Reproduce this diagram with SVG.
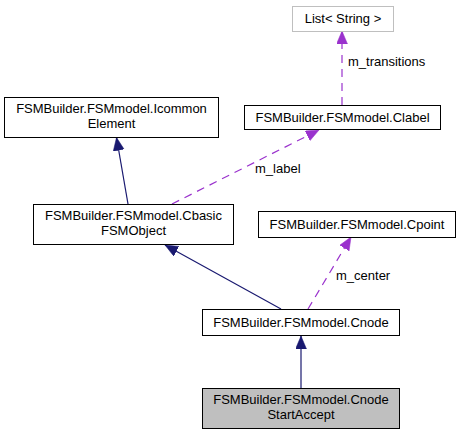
<svg xmlns="http://www.w3.org/2000/svg" width="463" height="435" viewBox="0 0 463 435">
<style>
  .box { fill: #ffffff; stroke: #000000; stroke-width: 1; }
  .gray { fill: #ffffff; stroke: #bfbfbf; stroke-width: 1; }
  .cur { fill: #bfbfbf; stroke: #000000; stroke-width: 1; }
  text { font-family: "Liberation Sans", Arial, sans-serif; font-size: 13px; fill: #000000; }
  .c { text-anchor: middle; }
  .inh { stroke: #191970; stroke-width: 1.2; fill: none; }
  .use { stroke: #9a32cd; stroke-width: 1.2; fill: none; stroke-dasharray: 8,6; }
</style>
<defs>
  <marker id="ah-inh" markerUnits="userSpaceOnUse" markerWidth="14" markerHeight="12" refX="13" refY="5.5" orient="auto">
    <path d="M0,0 L13,5.5 L0,11 z" fill="#191970" stroke="#191970" stroke-width="0.5"/>
  </marker>
  <marker id="ah-use" markerUnits="userSpaceOnUse" markerWidth="14" markerHeight="12" refX="13" refY="5.5" orient="auto">
    <path d="M0,0 L13,5.5 L0,11 z" fill="#9a32cd" stroke="#9a32cd" stroke-width="0.5"/>
  </marker>
</defs>

<g id="edges">
  <line class="inh" x1="128" y1="204" x2="116.5" y2="137.5" marker-end="url(#ah-inh)"/>
  <line class="inh" x1="281" y1="309" x2="165" y2="245" marker-end="url(#ah-inh)"/>
  <line class="inh" x1="301" y1="388" x2="301" y2="336" marker-end="url(#ah-inh)"/>
  <line class="use" x1="172" y1="204" x2="319" y2="130" marker-end="url(#ah-use)"/>
  <line class="use" x1="342" y1="105" x2="342" y2="31" marker-end="url(#ah-use)"/>
  <line class="use" x1="308" y1="309" x2="351" y2="237" marker-end="url(#ah-use)"/>
  <text x="255" y="173">m_label</text>
  <text x="348" y="66">m_transitions</text>
  <text x="336" y="280">m_center</text>
</g>

<g id="node-list">
  <rect class="gray" x="292.5" y="6.5" width="101" height="25"/>
  <text class="c" x="343" y="23">List&lt; String &gt;</text>
</g>
<g id="node-icommon">
  <rect class="box" x="4.5" y="97.5" width="214" height="40"/>
  <text class="c" x="111.5" y="113">FSMBuilder.FSMmodel.Icommon</text>
  <text class="c" x="111.5" y="128">Element</text>
</g>
<g id="node-clabel">
  <rect class="box" x="244.5" y="105.5" width="196" height="24"/>
  <text class="c" x="342.5" y="122">FSMBuilder.FSMmodel.Clabel</text>
</g>
<g id="node-cbasic">
  <rect class="box" x="33.5" y="204.5" width="200" height="40"/>
  <text class="c" x="133.5" y="220">FSMBuilder.FSMmodel.Cbasic</text>
  <text class="c" x="133.5" y="235">FSMObject</text>
</g>
<g id="node-cpoint">
  <rect class="box" x="258.5" y="211.5" width="197" height="26"/>
  <text class="c" x="357" y="229">FSMBuilder.FSMmodel.Cpoint</text>
</g>
<g id="node-cnode">
  <rect class="box" x="202.5" y="309.5" width="197" height="26"/>
  <text class="c" x="301" y="327">FSMBuilder.FSMmodel.Cnode</text>
</g>
<g id="node-startaccept">
  <rect class="cur" x="202.5" y="388.5" width="197" height="40"/>
  <text class="c" x="301" y="404">FSMBuilder.FSMmodel.Cnode</text>
  <text class="c" x="301" y="419">StartAccept</text>
</g>
</svg>
